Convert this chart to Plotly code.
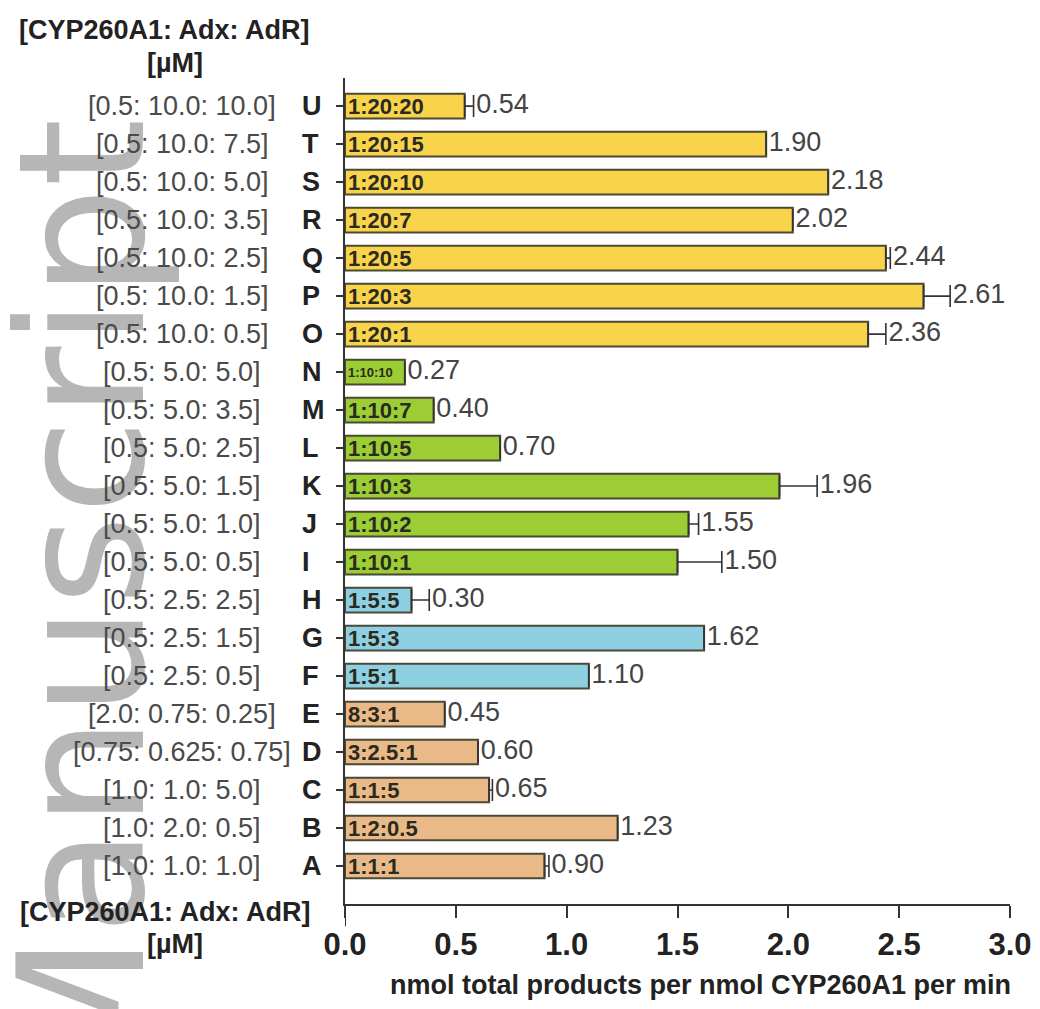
import plotly.graph_objects as go

# ---------------- data ----------------
letters = ["A", "B", "C", "D", "E", "F", "G", "H", "I", "J", "K",
           "L", "M", "N", "O", "P", "Q", "R", "S", "T", "U"]
concentrations = ["[1.0: 1.0: 1.0]", "[1.0: 2.0: 0.5]", "[1.0: 1.0: 5.0]",
                  "[0.75: 0.625: 0.75]", "[2.0: 0.75: 0.25]",
                  "[0.5: 2.5: 0.5]", "[0.5: 2.5: 1.5]", "[0.5: 2.5: 2.5]",
                  "[0.5: 5.0: 0.5]", "[0.5: 5.0: 1.0]", "[0.5: 5.0: 1.5]",
                  "[0.5: 5.0: 2.5]", "[0.5: 5.0: 3.5]", "[0.5: 5.0: 5.0]",
                  "[0.5: 10.0: 0.5]", "[0.5: 10.0: 1.5]", "[0.5: 10.0: 2.5]",
                  "[0.5: 10.0: 3.5]", "[0.5: 10.0: 5.0]", "[0.5: 10.0: 7.5]",
                  "[0.5: 10.0: 10.0]"]
ratios = ["1:1:1", "1:2:0.5", "1:1:5", "3:2.5:1", "8:3:1",
          "1:5:1", "1:5:3", "1:5:5",
          "1:10:1", "1:10:2", "1:10:3", "1:10:5", "1:10:7", "1:10:10",
          "1:20:1", "1:20:3", "1:20:5", "1:20:7", "1:20:10", "1:20:15", "1:20:20"]
values = [0.90, 1.23, 0.65, 0.60, 0.45,
          1.10, 1.62, 0.30,
          1.50, 1.55, 1.96, 0.70, 0.40, 0.27,
          2.36, 2.61, 2.44, 2.02, 2.18, 1.90, 0.54]
errors = [0.02, 0.0, 0.015, 0.0, 0.0,
          0.0, 0.0, 0.08,
          0.20, 0.045, 0.17, 0.0, 0.0, 0.0,
          0.08, 0.12, 0.02, 0.0, 0.0, 0.0, 0.04]
groups = ["mixed"] * 5 + ["adx2.5"] * 3 + ["adx5"] * 6 + ["adx10"] * 7

x_ticks = [0.0, 0.5, 1.0, 1.5, 2.0, 2.5, 3.0]
x_title = "nmol total products per nmol CYP260A1 per min"
header_1 = "[CYP260A1: Adx: AdR]"
header_2 = "[µM]"
watermark = "Manuscript"

# ---------------- styles ----------------
group_colors = {"mixed": "#EAB988", "adx2.5": "#8ED0E2",
                "adx5": "#9CCD35", "adx10": "#F9D44B"}
FONT = "Liberation Sans, Arial, sans-serif"
bar_colors = [group_colors[g] for g in groups]
# inner ratio labels shrink only where the bar is too short to hold them
inner_sizes = [22 if v >= 0.3 else 13 for v in values]

fig = go.Figure()

fig.add_trace(go.Bar(
    y=letters, x=values, orientation="h",
    marker=dict(color=bar_colors, line=dict(color="#4a4836", width=2)),
    width=0.65,
    error_x=dict(type="data", symmetric=False, array=errors,
                 arrayminus=[0] * len(errors), color="#333333",
                 thickness=1.6, width=11),
    text=["<b>" + r + "</b>" for r in ratios],
    textposition="inside", insidetextanchor="start", textangle=0,
    constraintext="none",
    textfont=dict(family=FONT, size=inner_sizes, color="#2a2a20"),
    hoverinfo="skip",
))

fig.add_trace(go.Scatter(
    y=letters, x=[v + e + 0.012 for v, e in zip(values, errors)],
    mode="text", text=[f"{v:.2f}" for v in values],
    textposition="middle right",
    textfont=dict(family=FONT, size=27, color="#444444"),
    hoverinfo="skip", cliponaxis=False,
))

H_PLOT = 826.0
W_PLOT = 665.0


def px_x(px):
    return (px - 345) / W_PLOT


def px_y(py):
    return (904 - py) / H_PLOT


annotations = []
# watermark (drawn first so the labels sit on top of it)
annotations.append(dict(
    text=watermark, textangle=-90, xref="paper", yref="paper",
    x=px_x(82), y=px_y(116), xanchor="center", yanchor="top", showarrow=False,
    font=dict(family="DejaVu Sans", size=175, color="#b6b6b6"),
))
for L, c in zip(letters, concentrations):
    annotations.append(dict(text=c, xref="paper", yref="y", x=px_x(182), y=L,
                            xanchor="center", yanchor="middle", showarrow=False,
                            font=dict(family=FONT, size=27, color="#4a4a4a")))
    annotations.append(dict(text="<b>" + L + "</b>", xref="paper", yref="y",
                            x=px_x(300), y=L, xanchor="left", yanchor="middle",
                            showarrow=False,
                            font=dict(family=FONT, size=27, color="#222222")))

for txt, cx, cy in [(header_1, 164, 30), (header_2, 175, 63),
                    (header_1, 165, 912), (header_2, 175, 944)]:
    annotations.append(dict(text="<b>" + txt + "</b>", xref="paper", yref="paper",
                            x=px_x(cx), y=px_y(cy), xanchor="center", yanchor="middle",
                            showarrow=False,
                            font=dict(family=FONT, size=27, color="#222222")))
annotations.append(dict(text="<b>" + x_title + "</b>", xref="paper", yref="paper",
                        x=px_x(700), y=px_y(985), xanchor="center", yanchor="middle",
                        showarrow=False,
                        font=dict(family=FONT, size=27, color="#222222")))

fig.update_layout(
    width=1040, height=1009,
    margin=dict(l=337, r=38, t=70, b=113, autoexpand=False),
    plot_bgcolor="white", paper_bgcolor="white",
    showlegend=False,
    annotations=annotations,
    shapes=[dict(type="line", xref="x", yref="paper", x0=0, x1=0, y0=0, y1=-0.027,
                 line=dict(color="#333333", width=2))],
    xaxis=dict(range=[0, 3], tickvals=x_ticks, tickformat=".1f",
               ticks="outside", ticklen=12, tickwidth=2, tickcolor="#333333",
               showline=True, linewidth=2, linecolor="#333333",
               showgrid=False, zeroline=False, ticklabelstandoff=0,
               automargin=False,
               tickfont=dict(family=FONT, size=31, color="#222222", weight="bold")),
    yaxis=dict(type="category", categoryorder="array", categoryarray=letters,
               range=[-1, 20.74], showline=True, linewidth=2, linecolor="#333333",
               ticks="outside", ticklen=7, tickwidth=1.5, tickcolor="#333333",
               showgrid=False, zeroline=False, showticklabels=False,
               automargin=False),
)

fig.write_html("out.html")
